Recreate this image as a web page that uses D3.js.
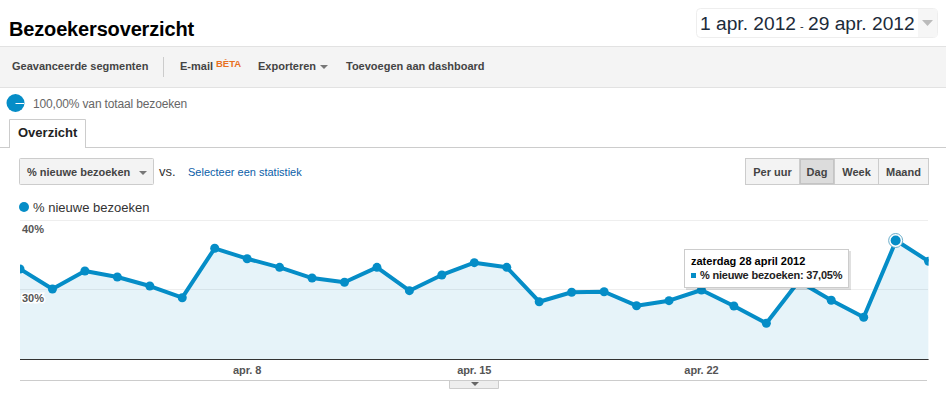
<!DOCTYPE html>
<html>
<head>
<meta charset="utf-8">
<script src="https://cdn.jsdelivr.net/npm/d3@7"></script>
<style>
  html, body { margin: 0; padding: 0; background: #fff; overflow: hidden; }
  svg { display: block; font-family: "Liberation Sans", Arial, sans-serif; }
  text { font-size: 11px; }
  .tool { font-weight: bold; fill: #444; }
  .x-axis .domain { stroke: #333; stroke-width: 1px; }
  .x-axis .tick line { display: none; }
  .x-axis .tick text { font-family: "Liberation Sans", Arial, sans-serif; font-size: 11px; font-weight: bold; fill: #555; letter-spacing: -0.1px; }
</style>
</head>
<body>
<svg id="chart" width="946" height="394"></svg>
<script>
// april 2012, one value per day
const days = d3.range(1, 30);
const newVisits = [32.95, 30.07, 32.66, 31.8, 30.5, 28.82, 35.93, 34.43, 33.19, 31.65,
  31.04, 33.19, 29.83, 32.09, 33.86, 33.19, 28.24, 29.6, 29.68, 27.67,
  28.39, 29.93, 27.63, 25.14, 31.2, 28.45, 26.0, 37.05, 34.06];
const yTicks = [30, 40];
const xTicks = [8, 15, 22];
const toolbarItems = [['Geavanceerde segmenten', 12], ['E-mail', 180], ['Exporteren', 258], ['Toevoegen aan dashboard', 346]];
const periodButtons = [['Per uur', 745, 54], ['Dag', 799, 35], ['Week', 834, 44], ['Maand', 878, 50]];

const blue = '#058dc7';
const svg = d3.select('#chart');

const tri = (x, y, w, h, fill) => svg.append('path')
  .attr('d', `M${x},${y}h${w}l${-w / 2},${h}z`).attr('fill', fill);

// header
svg.append('text').attr('x', 9).attr('y', 36)
  .style('font-size', '20px').style('font-weight', 'bold').style('letter-spacing', '-0.16px').attr('fill', '#000')
  .text('Bezoekersoverzicht');

svg.append('rect').attr('x', 696.5).attr('y', 8.5).attr('width', 241).attr('height', 29).attr('rx', 4)
  .attr('fill', '#fff').attr('stroke', '#eee');
svg.append('rect').attr('x', 918).attr('y', 9).attr('width', 19).attr('height', 28).attr('fill', '#f6f6f6');
svg.append('text').attr('x', 700).attr('y', 30).style('font-size', '19.2px').attr('fill', '#1c2b3a').text('1 apr. 2012');
svg.append('text').attr('x', 800).attr('y', 30).style('font-size', '11px').attr('fill', '#1c2b3a').text('-');
svg.append('text').attr('x', 808).attr('y', 30).style('font-size', '19.2px').attr('fill', '#1c2b3a').text('29 apr. 2012');
tri(922, 20, 11, 6, '#bbb');

// toolbar
svg.append('rect').attr('x', 0).attr('y', 46.5).attr('width', 946).attr('height', 41)
  .attr('fill', '#f4f4f4');
svg.append('line').attr('x1', 0).attr('x2', 946).attr('y1', 46.5).attr('y2', 46.5).attr('stroke', '#e2e2e2');
svg.append('line').attr('x1', 0).attr('x2', 946).attr('y1', 87.5).attr('y2', 87.5).attr('stroke', '#e2e2e2');
svg.selectAll('.tool').data(toolbarItems).join('text')
  .attr('class', 'tool').attr('x', d => d[1]).attr('y', 70).text(d => d[0]);
svg.append('line').attr('x1', 163.5).attr('x2', 163.5).attr('y1', 57).attr('y2', 77).attr('stroke', '#ccc');
svg.append('text').attr('x', 216).attr('y', 67).style('font-size', '9.5px').style('font-weight', 'bold')
  .attr('fill', '#e8701f').text('BÈTA');
tri(320, 65, 8, 4, '#777');

// segment line
svg.append('circle').attr('cx', 15.5).attr('cy', 103).attr('r', 9).attr('fill', blue);
svg.append('line').attr('x1', 15.5).attr('x2', 24).attr('y1', 103.5).attr('y2', 103.5).attr('stroke', '#fff');
svg.append('text').attr('x', 33).attr('y', 108).style('font-size', '12px').style('letter-spacing', '-0.15px').attr('fill', '#666')
  .text('100,00% van totaal bezoeken');

// tab
svg.append('line').attr('x1', 0).attr('x2', 946).attr('y1', 147.5).attr('y2', 147.5).attr('stroke', '#ccc');
svg.append('path').attr('d', 'M9.5,148V119.5H85.5V148').attr('fill', '#fff').attr('stroke', '#ccc');
svg.append('text').attr('x', 18).attr('y', 137).style('font-size', '13px').style('font-weight', 'bold')
  .attr('fill', '#222').text('Overzicht');

// metric picker
svg.append('rect').attr('x', 19.5).attr('y', 158.5).attr('width', 134).attr('height', 26).attr('rx', 1)
  .attr('fill', '#f3f3f3').attr('stroke', '#ccc');
svg.append('text').attr('class', 'tool').attr('x', 27).attr('y', 176).text('% nieuwe bezoeken');
tri(139, 171, 8, 4, '#777');
svg.append('text').attr('x', 159).attr('y', 176).style('font-size', '13px').attr('fill', '#333').text('vs.');
svg.append('text').attr('x', 188).attr('y', 176).attr('fill', '#0b5ea8').text('Selecteer een statistiek');

// period buttons
const btn = svg.selectAll('.period').data(periodButtons).join('g').attr('class', 'period');
btn.append('rect').attr('x', d => d[1] + 0.5).attr('y', 158.5).attr('width', d => d[2]).attr('height', 26)
  .attr('fill', d => d[0] === 'Dag' ? '#dcdcdc' : '#f3f3f3').attr('stroke', '#ccc');
btn.filter(d => d[0] === 'Dag').append('rect')
  .attr('x', d => d[1] + 1.5).attr('y', 159.5).attr('width', d => d[2] - 2).attr('height', 24)
  .attr('fill', 'none').attr('stroke', '#c4c4c4');
btn.append('text').attr('class', 'tool').attr('x', d => d[1] + d[2] / 2 + 0.5).attr('y', 176)
  .attr('text-anchor', 'middle').text(d => d[0]);

// legend
svg.append('circle').attr('cx', 24).attr('cy', 207).attr('r', 5).attr('fill', blue);
svg.append('text').attr('x', 33).attr('y', 212).style('font-size', '13px').attr('fill', '#333')
  .text('% nieuwe bezoeken');

// chart
const xScale = d3.scaleLinear().domain([1, 29]).range([20, 928.6]);
const yScale = d3.scaleLinear().domain([20, 40]).range([359, 220]);

const plot = svg.append('g');
svg.append('clipPath').attr('id', 'plot-clip').append('rect')
  .attr('x', 20).attr('y', 210).attr('width', 908.6).attr('height', 149);

plot.selectAll('.grid').data(yTicks).join('line')
  .attr('class', 'grid')
  .attr('x1', 20).attr('x2', 928)
  .attr('y1', d => Math.floor(yScale(d)) + 0.5).attr('y2', d => Math.floor(yScale(d)) + 0.5)
  .attr('stroke', '#eee');

const area = d3.area().x((d, i) => xScale(days[i])).y0(yScale(20)).y1(d => yScale(d));
const line = d3.line().x((d, i) => xScale(days[i])).y(d => yScale(d));

const series = plot.append('g').attr('clip-path', 'url(#plot-clip)');
series.append('path').datum(newVisits).attr('d', area).attr('fill', blue).attr('fill-opacity', 0.1);
plot.selectAll('.grid').raise();
series.raise();
series.append('path').datum(newVisits).attr('d', line)
  .attr('fill', 'none').attr('stroke', blue).attr('stroke-width', 4).attr('stroke-linejoin', 'round');
series.selectAll('.dot').data(newVisits).join('circle')
  .attr('class', 'dot')
  .attr('cx', (d, i) => xScale(days[i])).attr('cy', d => yScale(d))
  .attr('r', 4.5).attr('fill', blue);

// hovered point, apr. 28
const hover = 27;
plot.append('circle').attr('cx', xScale(days[hover]) - 0.5).attr('cy', yScale(newVisits[hover])).attr('r', 7)
  .attr('fill', '#fff').attr('stroke', '#6aaecb');
plot.append('circle').attr('cx', xScale(days[hover]) - 0.5).attr('cy', yScale(newVisits[hover])).attr('r', 5)
  .attr('fill', blue);

// y labels sit inside the plot, with a white halo
plot.selectAll('.y-label').data(yTicks).join('text')
  .attr('class', 'y-label')
  .attr('x', 22).attr('y', d => Math.floor(yScale(d)) + 13)
  .attr('fill', '#555').attr('stroke', '#fff').attr('stroke-width', 3)
  .attr('paint-order', 'stroke')
  .style('font-weight', 'bold').style('font-size', '11px')
  .text(d => d + '%');

const xAxis = d3.axisBottom(xScale)
  .tickValues(xTicks)
  .tickSize(0)
  .tickPadding(7)
  .tickSizeOuter(0)
  .tickFormat(d => 'apr. ' + d);
svg.append('g').attr('class', 'x-axis')
  .attr('transform', `translate(-0.5,${yScale(20)})`)
  .call(xAxis);

// bottom rule and handle
svg.append('line').attr('x1', 20).attr('x2', 927).attr('y1', 380.5).attr('y2', 380.5).attr('stroke', '#ccc');
svg.append('path').attr('d', 'M449.5,381V388.5H498.5V381').attr('fill', '#eee').attr('stroke', '#ccc');
tri(471, 382, 8, 4, '#666');

// tooltip
const tip = svg.append('g');
tip.append('rect').attr('x', 686).attr('y', 251).attr('width', 165).attr('height', 39).attr('fill', '#000').attr('opacity', 0.12);
tip.append('rect').attr('x', 684.5).attr('y', 249.5).attr('width', 164).attr('height', 38)
  .attr('fill', '#fff').attr('stroke', '#ccc');
tip.append('text').attr('x', 691).attr('y', 265).style('font-weight', 'bold').attr('fill', '#000')
  .text('zaterdag 28 april 2012');
tip.append('rect').attr('x', 691).attr('y', 273).attr('width', 5).attr('height', 5).attr('fill', blue);
tip.append('text').attr('x', 700).attr('y', 279).style('font-weight', 'bold').style('letter-spacing', '-0.2px').attr('fill', '#222')
  .text('% nieuwe bezoeken: 37,05%');
</script>
</body>
</html>
